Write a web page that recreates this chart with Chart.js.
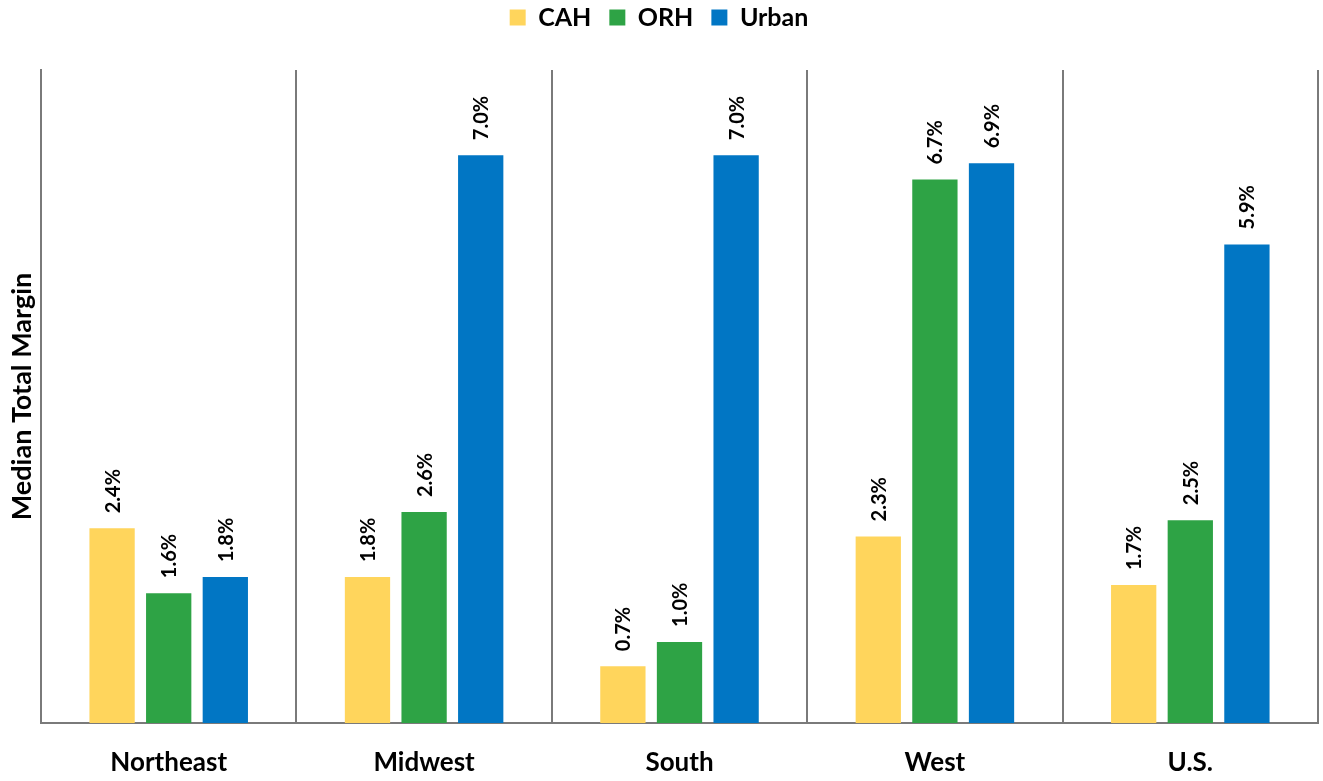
<!DOCTYPE html>
<html>
<head>
<meta charset="utf-8">
<script src="https://cdn.jsdelivr.net/npm/chart.js@4"></script>
<style>
  body { margin: 0; background: #fff; }
  #wrap { width: 1323px; height: 781px; }
</style>
</head>
<body>
<div id="wrap"><canvas id="canvas" width="1323" height="781"></canvas></div>
<script>
// data
var regions = ['Northeast', 'Midwest', 'South', 'West', 'U.S.'];
var cah = [2.4, 1.8, 0.7, 2.3, 1.7];
var orh = [1.6, 2.6, 1.0, 6.7, 2.5];
var urban = [1.8, 7.0, 7.0, 6.9, 5.9];

var fontName = 'Lato, "Open Sans", sans-serif';

// value labels, rotated, above each bar
var barLabels = {
  id: 'barLabels',
  afterDatasetsDraw: function(chart) {
    var ctx = chart.ctx;
    ctx.save();
    ctx.font = 'bold 20px ' + fontName;
    ctx.fillStyle = '#000';
    ctx.textAlign = 'left';
    ctx.textBaseline = 'middle';
    chart.data.datasets.forEach(function(ds, i) {
      var meta = chart.getDatasetMeta(i);
      meta.data.forEach(function(bar, j) {
        ctx.save();
        ctx.translate(bar.x + 1, bar.y - 15);
        ctx.rotate(-Math.PI / 2);
        ctx.fillText(ds.data[j].toFixed(1) + '%', 0, 0);
        ctx.restore();
      });
    });
    ctx.restore();
  }
};

// more room under the legend
var legendGap = {
  id: 'legendGap',
  beforeInit: function(chart) {
    var fit = chart.legend.fit;
    chart.legend.fit = function() {
      fit.bind(chart.legend)();
      this.height += 30;
    };
  }
};

var ctx = document.getElementById('canvas').getContext('2d');
var myChart = new Chart(ctx, {
  type: 'bar',
  data: {
    labels: regions,
    datasets: [
      { label: 'CAH', data: cah, backgroundColor: '#FFD55C' },
      { label: 'ORH', data: orh, backgroundColor: '#2EA345' },
      { label: 'Urban', data: urban, backgroundColor: '#0176C4' }
    ]
  },
  options: {
    responsive: false,
    animation: false,
    layout: { padding: { top: -13, right: 5, left: 0, bottom: 0 } },
    datasets: {
      bar: { categoryPercentage: 0.665, barPercentage: 0.8 }
    },
    plugins: {
      legend: {
        position: 'top',
        labels: {
          color: '#000',
          font: { family: fontName, size: 25, weight: 'bold' },
          boxWidth: 16,
          boxHeight: 16,
          padding: 18
        }
      },
      tooltip: { enabled: false }
    },
    scales: {
      x: {
        grid: {
          offset: true,
          color: '#7a7a7a',
          lineWidth: 2,
          drawTicks: false
        },
        border: { color: '#7a7a7a', width: 2 },
        ticks: {
          color: '#000',
          font: { family: fontName, size: 26, weight: 'bold' },
          padding: 24
        },
        afterFit: function(s) { s.height = 58; }
      },
      y: {
        min: 0,
        max: 8.05,
        ticks: { display: false },
        grid: { display: false },
        border: { color: '#7a7a7a', width: 2 },
        title: {
          display: true,
          text: 'Median Total Margin',
          color: '#000',
          font: { family: fontName, size: 27, weight: 'bold' },
          padding: { top: 6, bottom: 0 }
        },
        afterFit: function(s) { s.width = 41; }
      }
    }
  },
  plugins: [barLabels, legendGap]
});
</script>
</body>
</html>
